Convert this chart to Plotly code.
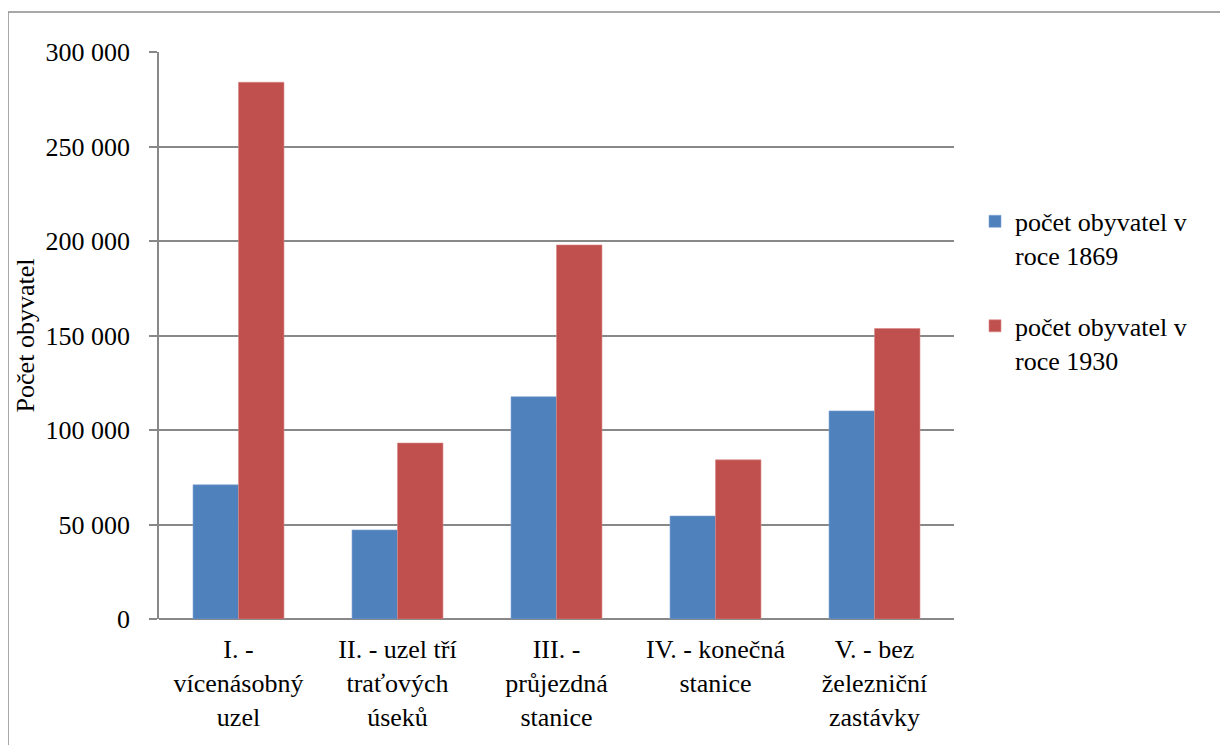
import plotly.graph_objects as go

categories = [
    "I. -<br>vícenásobný<br>uzel",
    "II. - uzel tří<br>traťových<br>úseků",
    "III. -<br>průjezdná<br>stanice",
    "IV. - konečná<br>stanice",
    "V. - bez<br>železniční<br>zastávky",
]
series_1869 = [71000, 47100, 117600, 54500, 110100]
series_1930 = [284000, 93100, 197900, 84200, 153700]
series_names = ["počet obyvatel v<br>roce 1869", "počet obyvatel v<br>roce 1930"]
tick_vals = [0, 50000, 100000, 150000, 200000, 250000, 300000]
tick_text = ["0", "50 000", "100 000", "150 000", "200 000", "250 000", "300 000"]

FONT = "Liberation Serif, Times New Roman, serif"
FS = 26
GRID = "#888888"
OFF = 8  # page body margin

W, H = 1228, 745
L, R = 159 - OFF, 954 - OFF
T, B = 52 - OFF, 619.5 - OFF

fig = go.Figure()
fig.add_trace(go.Bar(x=categories, y=series_1869, name=series_names[0],
                     marker=dict(color="#4F81BD", line=dict(color="#7FA3D3", width=0.6)),
                     legendgroup="a"))
fig.add_trace(go.Bar(x=categories, y=series_1930, name=series_names[1],
                     marker=dict(color="#C0504D", line=dict(color="#D88886", width=0.6)),
                     legendgroup="b"))

def px_x(p):
    p -= OFF
    return (p - L) / (R - L)

def px_y(p):
    p -= OFF
    return (B - p) / (B - T)

fig.update_layout(
    width=W, height=H,
    margin=dict(l=L, r=W - R, t=T, b=H - B, autoexpand=False),
    paper_bgcolor="white", plot_bgcolor="white",
    font=dict(family=FONT, size=FS, color="black"),
    barmode="group", bargap=0.428, bargroupgap=0,
    showlegend=True,
    legend=dict(x=px_x(975), y=px_y(198), xanchor="left", yanchor="top",
                font=dict(family=FONT, size=FS, color="black"),
                tracegroupgap=34, valign="top", itemwidth=30,
                bgcolor="rgba(0,0,0,0)"),
    shapes=[dict(type="rect", xref="paper", yref="paper",
                 x0=px_x(8), x1=px_x(1260), y0=px_y(790), y1=px_y(12),
                 line=dict(color="#8c8c8c", width=1.5), fillcolor="rgba(0,0,0,0)",
                 layer="below")],
)
fig.update_xaxes(
    showgrid=False, showline=False, ticks="",
    tickfont=dict(family=FONT, size=FS, color="black"),
    ticklabelstandoff=12,
)
fig.update_yaxes(
    range=[0, 300000], tickvals=tick_vals, ticktext=tick_text,
    showgrid=True, gridcolor=GRID, gridwidth=1.5,
    showline=True, linecolor=GRID, linewidth=1.5,
    ticks="outside", ticklen=8, tickcolor=GRID, tickwidth=1.5,
    ticklabelstandoff=14,
    tickfont=dict(family=FONT, size=FS, color="black"),
    title=dict(text="Počet obyvatel", font=dict(family=FONT, size=FS, color="black"), standoff=3),
    zeroline=True, zerolinecolor=GRID, zerolinewidth=1.5,
)

fig.write_html("out.html")
